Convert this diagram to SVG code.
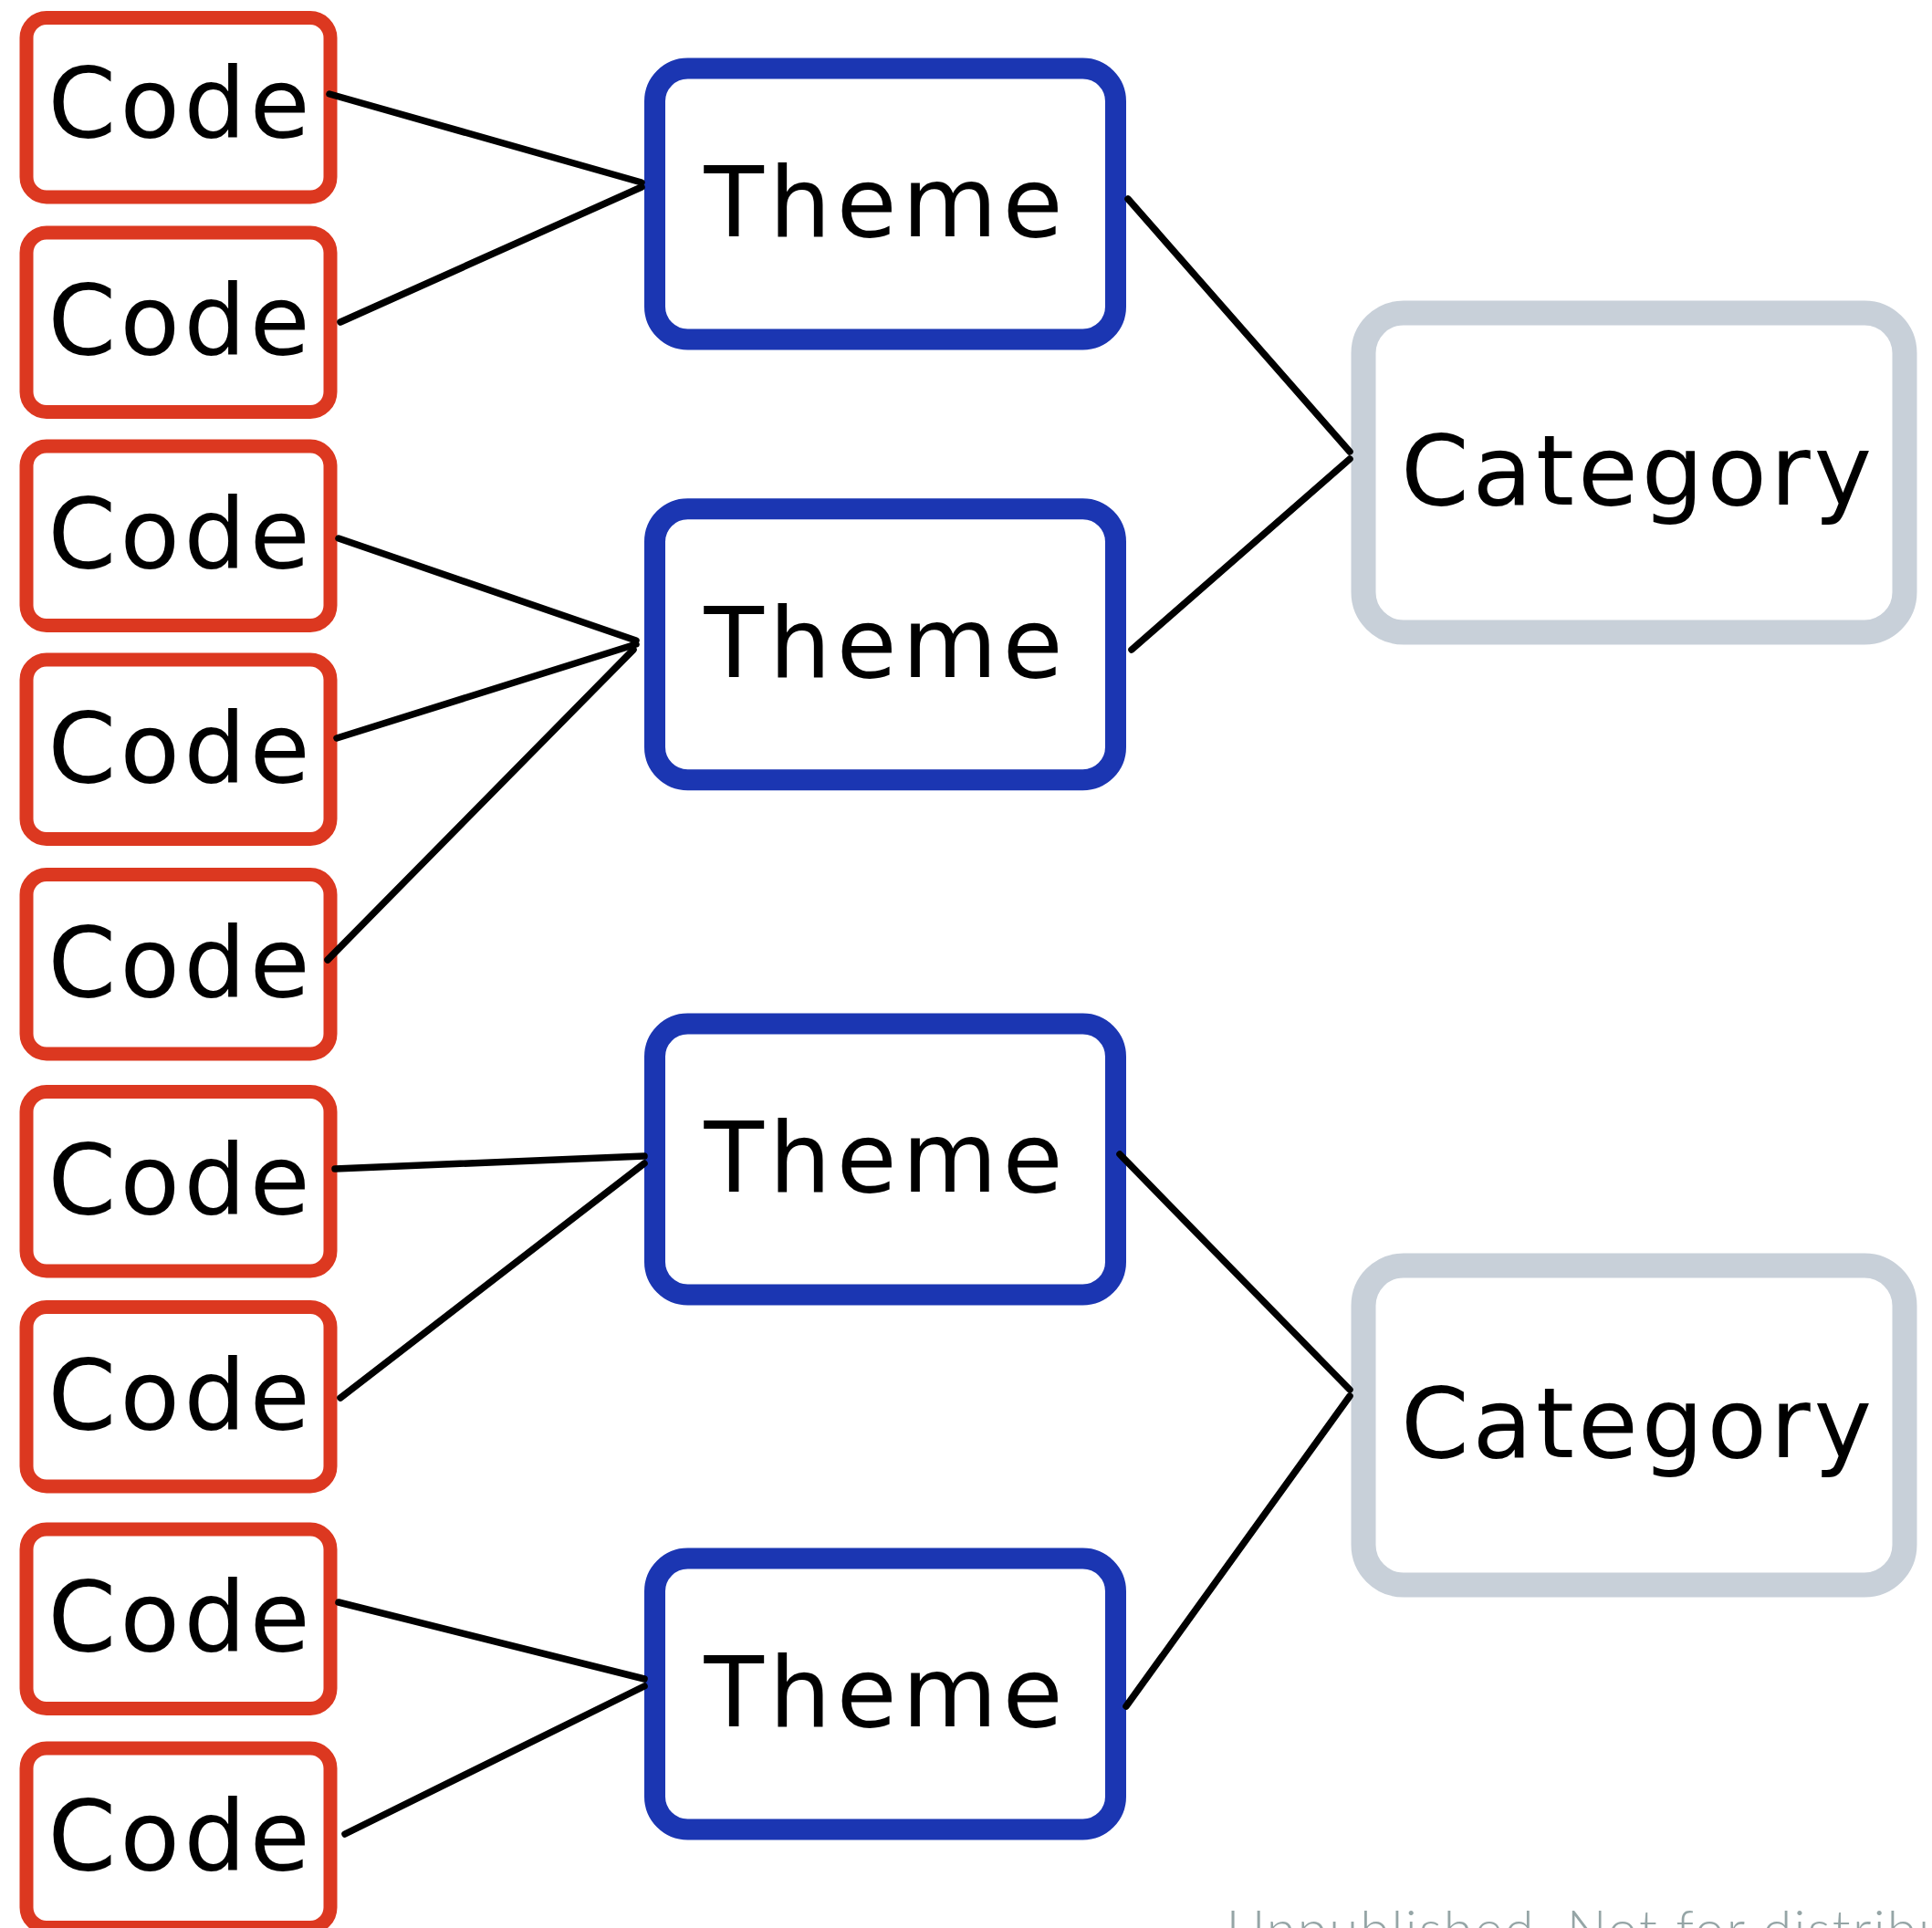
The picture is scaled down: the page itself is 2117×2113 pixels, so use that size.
<svg xmlns="http://www.w3.org/2000/svg" width="2117" height="2113" viewBox="0 0 2117 2113">
<style>
.code rect{fill:#fff;stroke:#dc3820;stroke-width:15}
.theme rect{fill:#fff;stroke:#1b36b2;stroke-width:23}
.cat rect{fill:#fff;stroke:#c8d0d9;stroke-width:27}
.lbl{font-family:"DejaVu Sans","Liberation Sans",sans-serif;font-size:107px;fill:#000;text-anchor:middle}
.edges line{stroke:#000;stroke-width:7.5;stroke-linecap:round}
.wm{font-family:Lato,"Liberation Sans",sans-serif;font-weight:300;font-size:58px;fill:#95a5a6}
</style>
<rect x="0" y="0" width="2117" height="2113" fill="#fff"/>
<g id="code1" class="code"><rect x="29" y="19.5" width="333" height="196.5" rx="22"/><text class="lbl" x="196" y="149.5" textLength="287">Code</text></g>
<g id="code2" class="code"><rect x="29" y="255" width="333" height="196.5" rx="22"/><text class="lbl" x="196" y="388.3" textLength="287">Code</text></g>
<g id="code3" class="code"><rect x="29" y="489" width="333" height="196.5" rx="22"/><text class="lbl" x="196" y="622.3" textLength="287">Code</text></g>
<g id="code4" class="code"><rect x="29" y="723" width="333" height="196.5" rx="22"/><text class="lbl" x="196" y="856.5" textLength="287">Code</text></g>
<g id="code5" class="code"><rect x="29" y="958.5" width="333" height="196.5" rx="22"/><text class="lbl" x="196" y="1091.7" textLength="287">Code</text></g>
<g id="code6" class="code"><rect x="29" y="1196.5" width="333" height="196.5" rx="22"/><text class="lbl" x="196" y="1330" textLength="287">Code</text></g>
<g id="code7" class="code"><rect x="29" y="1432.5" width="333" height="196.5" rx="22"/><text class="lbl" x="196" y="1566" textLength="287">Code</text></g>
<g id="code8" class="code"><rect x="29" y="1676" width="333" height="196.5" rx="22"/><text class="lbl" x="196" y="1809.3" textLength="287">Code</text></g>
<g id="code9" class="code"><rect x="29" y="1916" width="333" height="196.5" rx="22"/><text class="lbl" x="196" y="2049.3" textLength="287">Code</text></g>
<g id="theme1" class="theme"><rect x="717.5" y="75" width="505" height="297" rx="36"/><text class="lbl" x="968" y="259" textLength="393">Theme</text></g>
<g id="theme2" class="theme"><rect x="717.5" y="557.7" width="505" height="297" rx="36"/><text class="lbl" x="968" y="741.7" textLength="393">Theme</text></g>
<g id="theme3" class="theme"><rect x="717.5" y="1122" width="505" height="297" rx="36"/><text class="lbl" x="968" y="1306" textLength="393">Theme</text></g>
<g id="theme4" class="theme"><rect x="717.5" y="1708" width="505" height="297" rx="36"/><text class="lbl" x="968" y="1892" textLength="393">Theme</text></g>
<g id="category1" class="cat"><rect x="1494" y="343" width="593" height="350" rx="44"/><text class="lbl" x="1793" y="553.3" textLength="516">Category</text></g>
<g id="category2" class="cat"><rect x="1494" y="1387" width="593" height="350" rx="44"/><text class="lbl" x="1793" y="1597.3" textLength="516">Category</text></g>
<g id="connectors" class="edges">
<line x1="361" y1="103" x2="703" y2="200"/>
<line x1="703" y1="205" x2="373" y2="353"/>
<line x1="371" y1="590" x2="697" y2="702"/>
<line x1="369" y1="809" x2="697" y2="706"/>
<line x1="359" y1="1052" x2="694" y2="712"/>
<line x1="367" y1="1281" x2="706" y2="1267"/>
<line x1="706" y1="1275" x2="373" y2="1532"/>
<line x1="371" y1="1756" x2="706" y2="1840"/>
<line x1="378" y1="2010" x2="706" y2="1848"/>
<line x1="1236" y1="218" x2="1479" y2="495"/>
<line x1="1479" y1="503" x2="1240" y2="712"/>
<line x1="1227" y1="1265" x2="1479" y2="1523"/>
<line x1="1479" y1="1530" x2="1234" y2="1870"/>
</g>
<text class="wm" x="1344" y="2135" textLength="790">Unpublished. Not for distribu</text>
</svg>
